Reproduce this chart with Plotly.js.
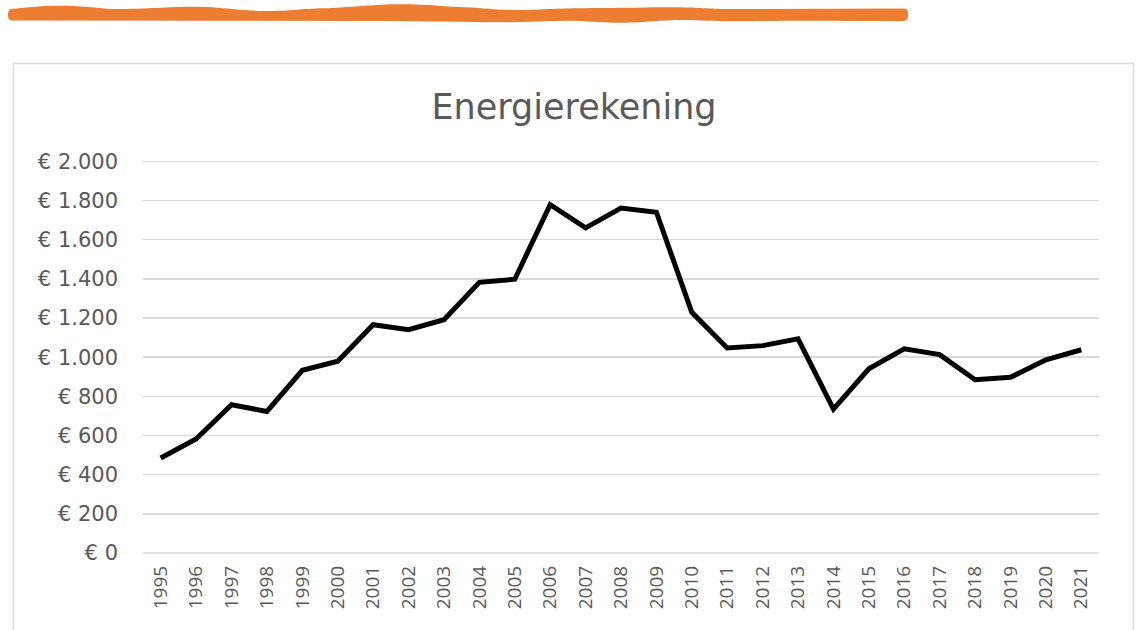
<!DOCTYPE html>
<html><head><meta charset="utf-8">
<script src="https://cdn.plot.ly/plotly-3.0.1.min.js"></script>
<style>html,body{margin:0;padding:0;background:#fff;overflow:hidden;} #chart{width:1140px;height:630px;}</style>
</head><body><div id="chart"></div>
<script>
// ---- data ----
const chartTitle = 'Energierekening';
const years = ['1995','1996','1997','1998','1999','2000','2001','2002','2003','2004','2005','2006','2007','2008','2009','2010','2011','2012','2013','2014','2015','2016','2017','2018','2019','2020','2021'];
const energyBill = [485,582,757,723,933,979,1166,1140,1191,1382,1398,1779,1660,1762,1740,1229,1047,1059,1094,735,941,1043,1013,885,897,987,1038];
const yTickValues = [0,200,400,600,800,1000,1200,1400,1600,1800,2000];
const yTickLabels = ['€ 0','€ 200','€ 400','€ 600','€ 800','€ 1.000','€ 1.200','€ 1.400','€ 1.600','€ 1.800','€ 2.000'];

// ---- layout helpers (decoration only) ----
const W = 1140, H = 630;
const M = {l:143, r:41, t:159, b:77};
const PW = W - M.l - M.r, PH = H - M.t - M.b;
const fx = px => (px - M.l) / PW;
const fy = py => (H - M.b - py) / PH;
const pt = (x,y) => fx(x).toFixed(5) + ',' + fy(y).toFixed(5);

// orange brush stroke at the top
const brush = 'M' + pt(12,9) +
  ' C' + pt(35,6) + ' ' + pt(50,5.5) + ' ' + pt(65,5.7) +
  ' C' + pt(90,6) + ' ' + pt(100,9) + ' ' + pt(116,9) +
  ' C' + pt(150,9) + ' ' + pt(170,6.5) + ' ' + pt(196,6.7) +
  ' C' + pt(225,7) + ' ' + pt(240,11) + ' ' + pt(269,11) +
  ' C' + pt(295,11) + ' ' + pt(305,8.3) + ' ' + pt(327,8.3) +
  ' C' + pt(355,7) + ' ' + pt(375,4.3) + ' ' + pt(400,4.3) +
  ' C' + pt(430,4.3) + ' ' + pt(450,7) + ' ' + pt(465,7.3) +
  ' C' + pt(485,8) + ' ' + pt(495,10) + ' ' + pt(509,10) +
  ' C' + pt(540,10) + ' ' + pt(560,8.3) + ' ' + pt(582,8.3) +
  ' C' + pt(620,8) + ' ' + pt(650,7.3) + ' ' + pt(676,7.3) +
  ' C' + pt(700,7.5) + ' ' + pt(710,9) + ' ' + pt(727,9) +
  ' L' + pt(902,8.5) +
  ' C' + pt(907,8.5) + ' ' + pt(908,10) + ' ' + pt(908,14.5) +
  ' C' + pt(908,19) + ' ' + pt(907,21) + ' ' + pt(902,21) +
  ' C' + pt(860,21) + ' ' + pt(830,20.7) + ' ' + pt(800,20.7) +
  ' C' + pt(770,20.7) + ' ' + pt(755,21.3) + ' ' + pt(735,21.3) +
  ' C' + pt(712,21.3) + ' ' + pt(700,20) + ' ' + pt(684,20) +
  ' C' + pt(660,20) + ' ' + pt(645,22.7) + ' ' + pt(625,22.7) +
  ' C' + pt(600,22.7) + ' ' + pt(585,20.7) + ' ' + pt(567,20.7) +
  ' C' + pt(545,20.7) + ' ' + pt(525,22.3) + ' ' + pt(502,22.3) +
  ' C' + pt(450,22) + ' ' + pt(400,21) + ' ' + pt(364,21) +
  ' L' + pt(218,20.7) +
  ' L' + pt(12,20.5) +
  ' C' + pt(9,20.5) + ' ' + pt(8,19) + ' ' + pt(8,15) +
  ' C' + pt(8,11) + ' ' + pt(9,9) + ' ' + pt(12,9) + ' Z';

const textColor = '#595959';
const wideFont = '"DejaVu Sans", "Open Sans", sans-serif';
const axisFont = '"Open Sans", "DejaVu Sans", sans-serif';

const trace = {
  type: 'scatter',
  mode: 'lines',
  x: years,
  y: energyBill,
  line: {color: '#000000', width: 5, shape: 'linear'},
  hoverinfo: 'x+y'
};

const layout = {
  width: W, height: H,
  margin: M,
  paper_bgcolor: '#ffffff',
  plot_bgcolor: '#ffffff',
  showlegend: false,
  title: {
    text: chartTitle,
    font: {family: wideFont, size: 35, color: textColor},
    xref: 'container', x: 574 / W, xanchor: 'center',
    yref: 'container', y: 1 - 107 / H, yanchor: 'middle'
  },
  xaxis: {
    type: 'category',
    range: [-0.5, years.length - 0.5],
    tickangle: -90,
    tickfont: {family: axisFont, size: 19, color: textColor},
    showgrid: false,
    zeroline: false,
    showline: false,
    ticks: '',
    ticklabelstandoff: 8,
    fixedrange: true
  },
  yaxis: {
    range: [0, 2012],
    tickvals: yTickValues,
    ticktext: yTickLabels,
    tickfont: {family: wideFont, size: 21, color: textColor},
    showgrid: true,
    gridcolor: '#d9d9d9',
    gridwidth: 1.5,
    zeroline: false,
    showline: false,
    ticks: '',
    ticklabelstandoff: 24,
    fixedrange: true
  },
  shapes: [
    {type: 'rect', xref: 'paper', yref: 'paper', layer: 'below',
     x0: fx(13.5), x1: fx(1133.5), y0: fy(640), y1: fy(63.5),
     line: {color: '#d9d9d9', width: 1.5}, fillcolor: 'rgba(0,0,0,0)'},
    {type: 'line', xref: 'paper', yref: 'paper', layer: 'below',
     x0: 0, x1: 1, y0: 0, y1: 0, line: {color: '#d9d9d9', width: 1.5}},
    {type: 'path', xref: 'paper', yref: 'paper', layer: 'above',
     path: brush, fillcolor: '#ED7D31', line: {width: 0}}
  ]
};

Plotly.newPlot('chart', [trace], layout, {displayModeBar: false, staticPlot: true});
</script>
</body></html>
